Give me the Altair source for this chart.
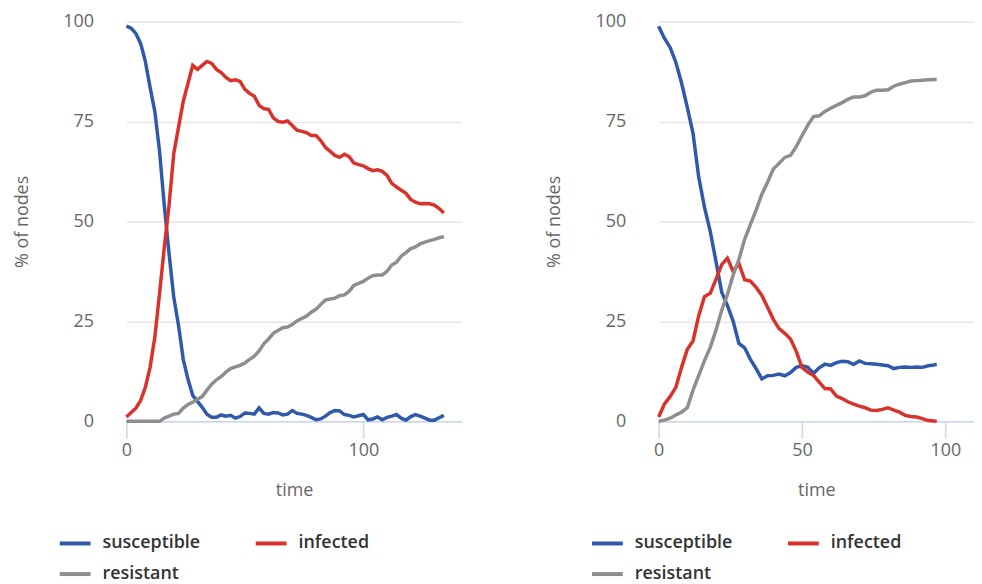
import altair as alt
import pandas as pd

series_names = ["susceptible", "infected", "resistant"]
series_colors = ["#2f5aab", "#d9322b", "#8e8e8e"]

# Left run
time_left = list(range(0, 135, 2))
susceptible_left = [98.8, 98.3, 97.0, 94.5, 90.0, 83.5, 77.5, 67.5, 54.0, 42.0,
                    31.0, 24.0, 15.5, 10.5, 6.5, 5.0, 3.5, 1.8, 1.0, 1.0,
                    1.6, 1.3, 1.5, 0.8, 1.2, 2.1, 2.0, 1.8, 3.4, 2.0,
                    1.8, 2.2, 2.1, 1.6, 1.8, 2.7, 2.0, 1.8, 1.5, 1.0,
                    0.4, 0.6, 1.3, 2.2, 2.7, 2.6, 1.7, 1.5, 1.1, 1.4,
                    1.7, 0.4, 0.6, 1.1, 0.4, 1.0, 1.3, 1.7, 0.8, 0.3,
                    1.2, 1.7, 1.3, 0.8, 0.3, 0.3, 0.9, 1.5]
infected_left = [1.1, 2.2, 3.3, 5.2, 8.5, 13.5, 21.0, 32.0, 43.5, 54.0,
                 67.0, 73.5, 80.0, 84.5, 89.0, 88.0, 89.0, 90.0, 89.5, 88.0,
                 87.2, 86.0, 85.2, 85.4, 85.0, 83.0, 82.0, 81.3, 79.0, 78.2,
                 78.0, 75.9, 75.0, 74.8, 75.1, 74.0, 72.8, 72.5, 72.2, 71.5,
                 71.5, 70.2, 68.5, 67.5, 66.5, 66.0, 66.8, 66.2, 64.6, 64.2,
                 63.9, 63.2, 62.7, 62.9, 62.5, 61.5, 59.5, 58.6, 57.8, 57.0,
                 55.5, 54.8, 54.4, 54.5, 54.4, 54.1, 53.2, 52.1]
resistant_left = [0.0, 0.0, 0.0, 0.0, 0.0, 0.0, 0.0, 0.0, 0.8, 1.3,
                  1.8, 2.0, 3.3, 4.2, 4.8, 5.5, 6.2, 7.8, 9.3, 10.4,
                  11.2, 12.3, 13.2, 13.6, 14.0, 14.6, 15.5, 16.3, 17.6, 19.4,
                  20.6, 22.0, 22.7, 23.4, 23.6, 24.2, 25.1, 25.7, 26.3, 27.3,
                  28.0, 29.2, 30.3, 30.6, 30.8, 31.4, 31.6, 32.5, 34.0, 34.5,
                  35.0, 35.8, 36.4, 36.6, 36.6, 37.5, 39.1, 39.8, 41.3, 42.2,
                  43.2, 43.6, 44.4, 44.8, 45.2, 45.5, 45.9, 46.2]

# Right run
time_right = list(range(0, 97, 2)) + [97]
susceptible_right = [98.8, 95.8, 93.5, 89.8, 84.6, 78.5, 72.0, 61.0, 53.5, 47.5,
                     40.0, 32.3, 29.0, 25.0, 19.5, 18.4, 15.5, 13.2, 10.6, 11.4,
                     11.5, 11.8, 11.4, 12.2, 13.5, 13.9, 13.6, 12.0, 13.4, 14.3,
                     14.0, 14.7, 15.0, 14.9, 14.2, 15.1, 14.5, 14.4, 14.3, 14.1,
                     13.9, 13.2, 13.5, 13.6, 13.5, 13.6, 13.5, 13.9, 14.1, 14.3]
infected_right = [1.1, 4.3, 6.2, 8.5, 13.5, 18.0, 20.1, 26.5, 31.2, 32.0,
                  35.5, 39.2, 40.8, 37.5, 39.5, 35.4, 35.1, 33.5, 31.5, 28.5,
                  25.5, 23.2, 22.0, 20.6, 17.5, 13.5, 12.3, 11.5, 9.8, 8.2,
                  8.1, 6.3, 5.7, 4.9, 4.3, 3.8, 3.4, 2.8, 2.7, 3.0,
                  3.4, 2.8, 2.3, 1.5, 1.2, 1.1, 0.7, 0.2, 0.1, 0.0]
resistant_right = [0.0, 0.3, 0.8, 1.6, 2.3, 3.4, 7.8, 11.5, 15.2, 18.5,
                   22.8, 27.8, 31.7, 36.6, 40.5, 45.5, 49.2, 52.8, 56.8, 59.8,
                   63.1, 64.5, 66.0, 66.5, 68.7, 71.4, 74.0, 76.2, 76.4, 77.5,
                   78.3, 79.0, 79.7, 80.5, 81.1, 81.1, 81.4, 82.3, 82.8, 82.8,
                   82.9, 83.8, 84.3, 84.7, 85.1, 85.2, 85.3, 85.4, 85.5, 85.5]

x_ticks_left = [0, 100]
x_ticks_right = [0, 50, 100]
y_ticks = [0, 25, 50, 75, 100]


def long_frame(times, s, i, r):
    rows = []
    for name, vals in zip(series_names, [s, i, r]):
        for t, v in zip(times, vals):
            rows.append({"time": t, "value": v, "series": name})
    return pd.DataFrame(rows)


df_left = long_frame(time_left, susceptible_left, infected_left, resistant_left)
df_right = long_frame(time_right, susceptible_right, infected_right, resistant_right)

FONT = "Open Sans"


def panel(df, xmax, ticks, width):
    legend = alt.Legend(
        title=None, orient="none", legendX=-69, legendY=507, columns=2,
        direction="horizontal",
        symbolType="stroke", symbolSize=961, symbolStrokeWidth=4,
        labelFont=FONT, labelFontSize=18, labelFontWeight=600, labelColor="#333333",
        columnPadding=47, rowPadding=4, labelOffset=10, padding=0,
    )
    return alt.Chart(df).mark_line(strokeWidth=3.5).encode(
        x=alt.X("time:Q", title="time",
                scale=alt.Scale(domain=[0, xmax], nice=False, zero=False),
                axis=alt.Axis(values=ticks, grid=False, domainColor="#ccd6eb",
                              domainWidth=1.5, tickColor="#ccd6eb", tickWidth=1.5,
                              tickSize=17, labelPadding=3, titlePadding=23,
                              labelFlush=False)),
        y=alt.Y("value:Q", title="% of nodes",
                scale=alt.Scale(domain=[0, 100], nice=False),
                axis=alt.Axis(values=y_ticks, grid=True, gridColor="#e6e6e6",
                              gridWidth=1.5, domain=False, ticks=False,
                              labelPadding=33, titlePadding=32)),
        color=alt.Color("series:N",
                        scale=alt.Scale(domain=series_names, range=series_colors),
                        legend=legend),
        order=alt.Order("time:Q"),
    ).properties(width=width, height=402)


left = panel(df_left, 141.5, x_ticks_left, 337)
right = panel(df_right, 110, x_ticks_right, 317)

chart = alt.hconcat(left, right, spacing=84).resolve_scale(
    color="independent", x="independent"
).resolve_legend(color="independent").configure_axis(
    labelFont=FONT, labelFontSize=18, labelColor="#666666",
    titleFont=FONT, titleFontSize=18, titleColor="#666666", titleFontWeight="normal",
).configure_view(stroke=None).properties(
    padding={"left": 5, "top": 3, "right": 0, "bottom": 0}
)

chart.save("out.html", embed_options={"renderer": "svg", "actions": False})
